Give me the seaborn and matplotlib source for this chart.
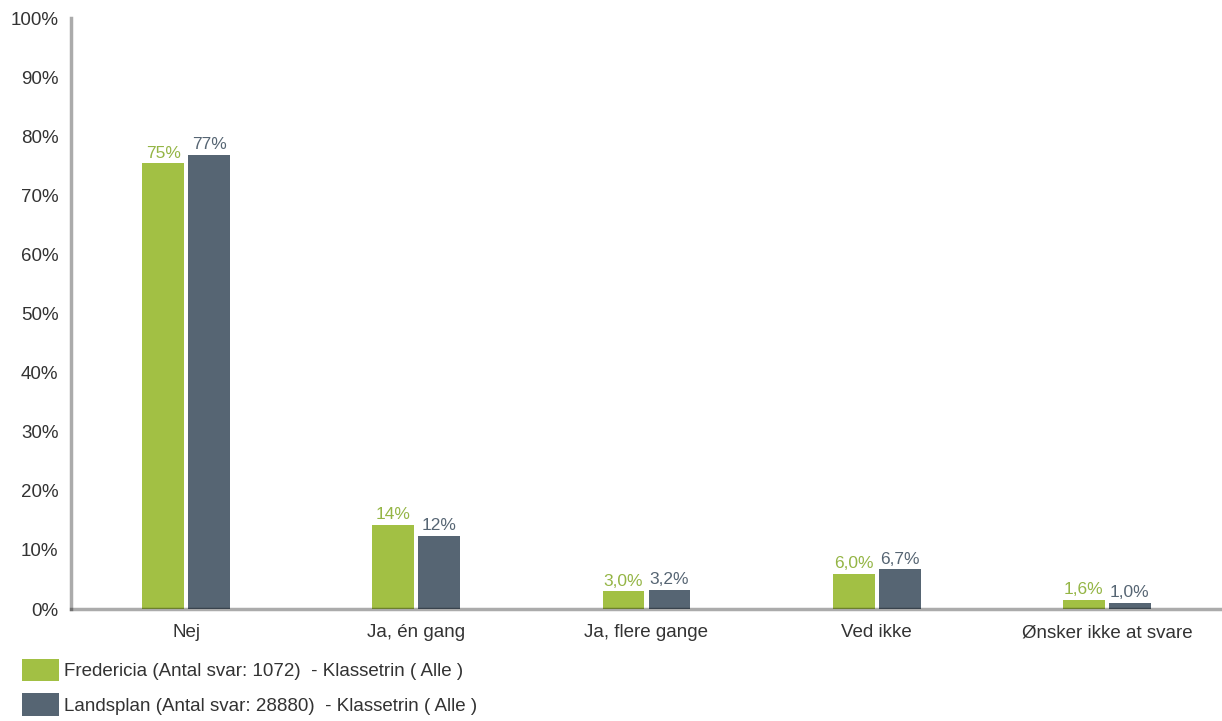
import pandas as pd
import matplotlib.pyplot as plt
import seaborn as sns

# Data
categories = ["Nej", "Ja, én gang", "Ja, flere gange", "Ved ikke", "Ønsker ikke at svare"]
fredericia = [75.4, 14.3, 3.0, 6.0, 1.6]
landsplan = [76.9, 12.4, 3.2, 6.7, 1.0]
series_names = ["Fredericia (Antal svar: 1072)  - Klassetrin ( Alle )",
                "Landsplan (Antal svar: 28880)  - Klassetrin ( Alle )"]
colors = ["#a2c044", "#566573"]
label_colors = ["#94b545", "#566573"]
y_ticks = list(range(0, 101, 10))

df = pd.DataFrame({
    "kategori": categories * 2,
    "andel": fredericia + landsplan,
    "serie": [series_names[0]] * len(categories) + [series_names[1]] * len(categories),
})

sns.set_style("white")
plt.rcParams["font.family"] = ["Liberation Sans", "DejaVu Sans"]

fig = plt.figure(figsize=(12.22, 7.21), dpi=100)
ax = fig.add_axes([0.0581, 0.1553, 0.9419, 0.8197])

sns.barplot(data=df, x="kategori", y="andel", hue="serie", palette=colors,
            width=0.4, gap=0.09, saturation=1, linewidth=0, ax=ax, zorder=2)

def fmt(v):
    if v >= 10:
        return f"{v:.0f}%"
    return f"{v:.1f}%".replace(".", ",")

for cont, col in zip(ax.containers, label_colors):
    ax.bar_label(cont, labels=[fmt(v) for v in cont.datavalues], padding=2,
                 fontsize=12.5, color=col)

ax.set_xlim(-0.5, 4.5)
ax.set_ylim(0, 100)
ax.set_yticks(y_ticks)
ax.set_yticklabels([f"{t}%" for t in y_ticks], fontsize=13.5, color="#333333")
ax.tick_params(axis="x", labelsize=13.5, labelcolor="#333333", length=0, pad=11)
ax.tick_params(axis="y", length=0, pad=9)
ax.set_xlabel("")
ax.set_ylabel("")

for side in ["top", "right"]:
    ax.spines[side].set_visible(False)
for side in ["left", "bottom"]:
    ax.spines[side].set_color((0, 0, 0, 0.33))
    ax.spines[side].set_linewidth(2.5)
    ax.spines[side].set_zorder(3)

handles, labels = ax.get_legend_handles_labels()
ax.get_legend().remove()
fig.legend(handles, labels, loc="upper left", bbox_to_anchor=(0.012, 0.097),
           frameon=False, fontsize=13.5, handlelength=1.95, handleheight=1.5,
           handletextpad=0.3, labelspacing=0.62, borderaxespad=0, labelcolor="#333333")

fig.savefig("out.png", dpi=100)
